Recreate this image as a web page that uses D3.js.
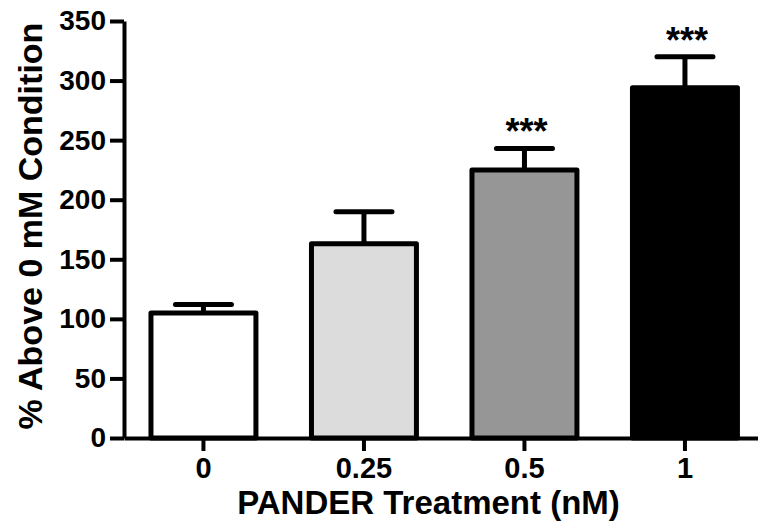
<!DOCTYPE html>
<html>
<head>
<meta charset="utf-8">
<script src="https://cdn.jsdelivr.net/npm/d3@7"></script>
<style>
  html, body { margin: 0; padding: 0; background: #fff; }
  svg { display: block; }
  text { font-family: "Liberation Sans", Arial, sans-serif; font-weight: bold; fill: #000; }
</style>
</head>
<body>
<svg id="chart" width="758" height="527"></svg>
<script>
// ---- data ----
const categories = ["0", "0.25", "0.5", "1"];
const values = [105, 163, 225, 294];
const sem = [7, 27, 18, 26];
const significance = ["", "", "***", "***"];
const barColors = ["#ffffff", "#dcdcdc", "#969696", "#000000"];
const yTicks = [0, 50, 100, 150, 200, 250, 300, 350];
const xTitle = "PANDER Treatment (nM)";
const yTitle = "% Above 0 mM Condition";

const svg = d3.select("#chart");

const y = d3.scaleLinear().domain([0, 350]).range([438, 21]);
const x = d3.scaleBand().domain(categories).range([124, 764.4])
  .paddingInner(0.346).paddingOuter(0.168);

// bars
svg.append("g").selectAll("rect").data(categories).join("rect")
  .attr("x", d => x(d))
  .attr("width", x.bandwidth())
  .attr("y", (d, i) => y(values[i]))
  .attr("height", (d, i) => y(0) - y(values[i]))
  .attr("fill", (d, i) => barColors[i])
  .attr("stroke", "#000")
  .attr("stroke-width", 5)
  .attr("stroke-linejoin", "round");

// error bars (upward only)
const eb = svg.append("g").attr("stroke", "#000").attr("stroke-width", 5).attr("stroke-linecap", "round");
categories.forEach((c, i) => {
  const cx = x(c) + x.bandwidth() / 2;
  eb.append("line").attr("x1", cx).attr("x2", cx)
    .attr("y1", y(values[i])).attr("y2", y(values[i] + sem[i])).attr("stroke-linecap", "butt");
  eb.append("line").attr("x1", cx - 28).attr("x2", cx + 28)
    .attr("y1", y(values[i] + sem[i])).attr("y2", y(values[i] + sem[i]));
});

// significance stars
svg.append("g").selectAll("text").data(categories).join("text")
  .attr("x", d => x(d) + x.bandwidth() / 2 + 2)
  .attr("y", (d, i) => y(values[i] + sem[i]) - 4)
  .attr("text-anchor", "middle")
  .style("font-size", "36px")
  .text((d, i) => significance[i]);

// axes
const yAxis = svg.append("g").attr("transform", "translate(124,0)")
  .call(d3.axisLeft(y).tickValues(yTicks).tickSize(14).tickSizeOuter(0).tickPadding(4));
const xAxis = svg.append("g").attr("transform", "translate(0,438)")
  .call(d3.axisBottom(x).tickSize(13).tickSizeOuter(0).tickPadding(6));

[yAxis, xAxis].forEach(g => {
  g.select(".domain").attr("stroke", "#000").attr("stroke-width", 4);
  g.selectAll(".tick line").attr("stroke", "#000").attr("stroke-width", 4);
  g.selectAll(".tick text").attr("fill", "#000")
    .style("font-family", "'Liberation Sans', Arial, sans-serif")
    .style("font-weight", "bold");
});
yAxis.selectAll(".tick text").style("font-size", "28px");
xAxis.selectAll(".tick text").style("font-size", "29px");

// titles
svg.append("text")
  .attr("x", 428.5).attr("y", 514)
  .attr("text-anchor", "middle")
  .style("font-size", "33px")
  .text(xTitle);

svg.append("text")
  .attr("transform", "translate(42,226) rotate(-90)")
  .attr("text-anchor", "middle")
  .style("font-size", "34px")
  .text(yTitle);
</script>
</body>
</html>
